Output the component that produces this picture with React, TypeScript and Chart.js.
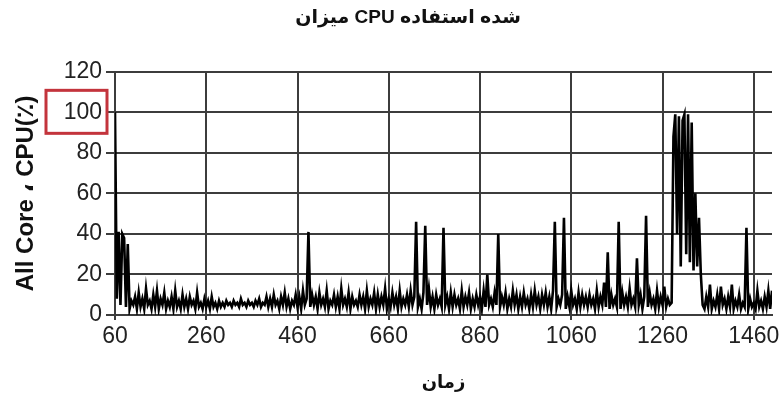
import { useEffect, useRef } from "react";
import { Chart, registerables } from "chart.js";

Chart.register(...registerables);

// LRM marks keep the words in the reference's left-to-right word order
const TITLE = "\u200Eمیزان CPU استفاده\u200E شده";
const X_TITLE = "زمان";
const Y_TITLE = "All Core ، CPU(٪)";
const X_TICKS = [60, 260, 460, 660, 860, 1060, 1260, 1460];
const Y_MIN = 0;
const Y_MAX = 120;
const Y_STEP = 20;
const HIGHLIGHT_TICK = 100;
const TIME_START = 60;
const TIME_STEP = 4;
const TIME_END = 1500;

// CPU usage (%) sampled every 4 time units, grouped by ranges of time
const cpu0060 = [100, 8, 41, 5, 40, 38, 4, 35, 3, 7];
const cpu0100 = [5, 9, 3, 11, 4, 8, 3, 13, 5, 7, 3, 10, 4, 12, 3, 8, 5, 11, 3, 7, 4, 9, 3, 12, 4];
const cpu0200 = [7, 3, 10, 4, 8, 3, 9, 5, 7, 3, 11, 4, 6, 3, 8, 4, 7, 3, 9, 4, 6, 3, 7, 4, 6];
const cpu0300 = [4, 7, 5, 6, 4, 7, 5, 6, 4, 8, 5, 6, 4, 7, 5, 6, 4, 7, 5, 8, 4, 6, 5, 9, 4];
const cpu0400 = [8, 4, 10, 5, 7, 3, 9, 5, 11, 4, 8, 3, 7, 5, 10, 4, 9, 3, 12, 5, 8, 41, 4, 10, 5];
const cpu0500 = [9, 3, 11, 5, 8, 4, 12, 3, 7, 5, 10, 4, 9, 3, 13, 5, 8, 4, 11, 3, 9, 5, 7, 4, 10];
const cpu0600 = [5, 9, 3, 12, 4, 8, 5, 11, 3, 10, 4, 9, 5, 13, 3, 8, 4, 11, 5, 9, 3, 12, 4, 8, 5];
const cpu0700 = [10, 4, 12, 5, 9, 46, 4, 8, 3, 11, 44, 5, 13, 4, 9, 3, 10, 5, 8, 4, 43, 5, 9, 3, 11];
const cpu0800 = [4, 10, 5, 8, 3, 12, 4, 9, 5, 11, 3, 8, 4, 10, 5, 9, 3, 12, 4, 20, 5, 8, 4, 11, 5];
const cpu0900 = [40, 4, 9, 5, 11, 3, 8, 4, 12, 5, 10, 3, 9, 4, 11, 5, 8, 3, 10, 4, 12, 5, 9, 3, 10];
const cpu1000 = [5, 11, 4, 9, 3, 12, 46, 4, 8, 5, 10, 48, 3, 9, 4, 12, 5, 8, 3, 11, 4, 10, 5, 9, 4];
const cpu1100 = [10, 5, 8, 3, 12, 4, 9, 5, 16, 4, 31, 3, 10, 5, 8, 4, 46, 3, 11, 5, 9, 4, 13, 5, 8];
const cpu1200 = [4, 28, 5, 10, 3, 9, 49, 4, 11, 5, 8, 3, 12, 4, 9, 5, 14, 4, 8, 5, 6, 88, 99, 40, 98];
const cpu1300 = [24, 96, 99, 30, 99, 26, 95, 22, 60, 24, 48, 20, 5, 3, 9, 4, 15, 3, 7, 4, 10, 3, 14, 5, 8];
const cpu1400 = [3, 9, 4, 15, 3, 7, 4, 10, 3, 6, 4, 43, 3, 8, 4, 6, 3, 12, 4, 7, 3, 9, 4, 12, 3];
const cpu1500 = [12];

const CPU = [
  ...cpu0060, ...cpu0100, ...cpu0200, ...cpu0300, ...cpu0400, ...cpu0500,
  ...cpu0600, ...cpu0700, ...cpu0800, ...cpu0900, ...cpu1000, ...cpu1100,
  ...cpu1200, ...cpu1300, ...cpu1400, ...cpu1500,
];

const TICK_FONT = "'Liberation Sans', Arial, sans-serif";
const TITLE_FONT = "'Liberation Sans', 'DejaVu Sans', Arial, sans-serif";
const GRID = "#3c3c3c";

const highlightPlugin = {
  id: "highlightTick",
  afterDraw(chart: any) {
    const y = chart.scales.y;
    const py = y.getPixelForValue(HIGHLIGHT_TICK);
    const ctx = chart.ctx;
    ctx.save();
    ctx.strokeStyle = "#c3343c";
    ctx.lineWidth = 3;
    ctx.strokeRect(y.right - 69, py - 22, 61, 43);
    ctx.restore();
  },
};

export default function App() {
  const ref = useRef<HTMLCanvasElement | null>(null);

  useEffect(() => {
    if (!ref.current) return;
    const points = CPU.map((v, i) => ({ x: TIME_START + i * TIME_STEP, y: v }));
    const chart = new Chart(ref.current, {
      type: "line",
      data: {
        datasets: [
          {
            data: points,
            borderColor: "#000000",
            borderWidth: 2.6,
            pointRadius: 0,
            tension: 0,
            fill: false,
          },
        ],
      },
      options: {
        animation: false,
        responsive: true,
        maintainAspectRatio: false,
        layout: { padding: { left: 44, right: 7, top: 0, bottom: 0 } },
        plugins: {
          legend: { display: false },
          tooltip: { enabled: false },
          title: {
            display: true,
            text: TITLE,
            color: "#111",
            font: { family: TITLE_FONT, size: 19, weight: "bold" },
            padding: { top: 6, bottom: 43 },
          },
        },
        scales: {
          x: {
            type: "linear",
            min: TIME_START,
            max: TIME_END,
            afterBuildTicks: (scale: any) => {
              scale.ticks = X_TICKS.map((v) => ({ value: v }));
            },
            afterFit: (scale: any) => {
              scale.height = 88;
              scale.paddingLeft = 0;
              scale.paddingRight = 0;
            },
            grid: { color: GRID, lineWidth: 2, tickLength: 5, drawTicks: true },
            border: { color: GRID, width: 2 },
            ticks: {
              color: "#222",
              font: { family: TICK_FONT, size: 23 },
              padding: 3,
              maxRotation: 0,
              autoSkip: false,
              callback: (v: any) => String(v),
            },
            title: {
              display: true,
              text: X_TITLE,
              color: "#111",
              font: { family: TITLE_FONT, size: 18, weight: "bold" },
              padding: { top: 0, bottom: 9 },
            },
          },
          y: {
            min: Y_MIN,
            max: Y_MAX,
            afterFit: (scale: any) => {
              scale.width = 71;
            },
            grid: { color: GRID, lineWidth: 2, tickLength: 9, drawTicks: true },
            border: { color: GRID, width: 2 },
            ticks: {
              stepSize: Y_STEP,
              color: "#222",
              font: { family: TICK_FONT, size: 23 },
              padding: 4,
              callback: (v: any) => String(v),
            },
            title: {
              display: true,
              text: Y_TITLE,
              color: "#111",
              font: { family: TITLE_FONT, size: 24, weight: "bold" },
              padding: { top: -32, bottom: 0 },
            },
          },
        },
      },
      plugins: [highlightPlugin],
    });
    return () => chart.destroy();
  }, []);

  return (
    <div style={{ position: "fixed", left: 0, top: 0, width: 779, height: 403, background: "#fff" }}>
      <canvas ref={ref} />
    </div>
  );
}
